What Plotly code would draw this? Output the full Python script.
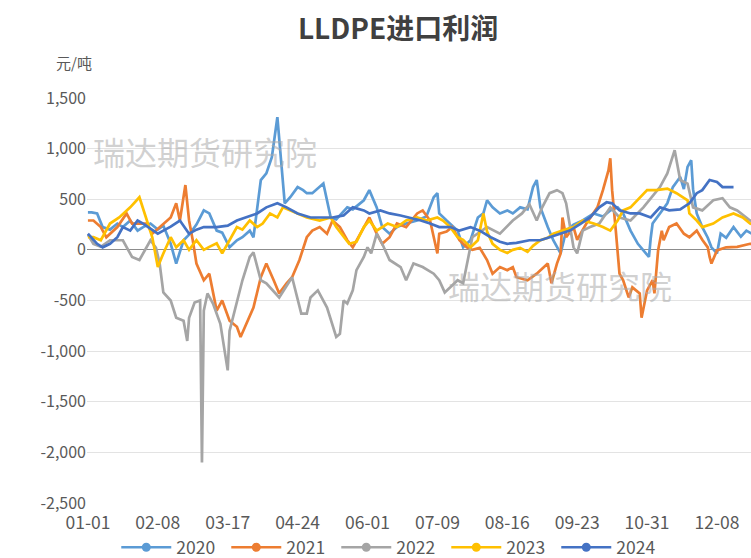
import datetime as dt
import plotly.graph_objects as go

# ---------------- data ----------------
all_days = [(dt.date(2024, 1, 1) + dt.timedelta(days=i)).strftime("%m-%d") for i in range(366)]
x_tick_labels = ["01-01", "02-08", "03-17", "04-24", "06-01", "07-09", "08-16", "09-23", "10-31", "12-08"]
y_tick_vals = [1500, 1000, 500, 0, -500, -1000, -1500, -2000, -2500]
y_tick_text = ["1,500", "1,000", "500", "0", "-500", "-1,000", "-1,500", "-2,000", "-2,500"]

days_2020 = [0, 2, 5, 8, 12, 16, 19, 23, 27, 30, 34, 38, 41, 45, 48, 52, 55, 59, 63, 66, 70, 73, 77, 81, 84, 88, 90,
             94, 97, 100, 103, 105, 107, 110, 114, 117, 119, 122, 126, 128, 132, 135, 141, 144, 150, 153, 157, 160,
             164, 168, 173, 179, 184, 188, 190, 191, 195, 201, 204, 208, 212, 215, 217, 220, 224, 228, 231, 235, 239,
             242, 244, 246, 250, 253, 257, 260, 264, 269, 275, 280, 284, 288, 291, 295, 299, 302, 305, 306, 307, 311,
             315, 318, 322, 324, 326, 328, 329, 331, 334, 337, 339, 342, 344, 347, 351, 355, 358, 361, 365]
vals_2020 = [370, 370, 360, 225, 200, 260, 225, 290, 190, 225, 260, 200, 240, 60, -135, 95, 150, 250, 390, 360, 190,
             170, 25, 95, 125, 190, 125, 690, 755, 915, 1310, 855, 460, 520, 620, 590, 560, 560, 620, 655, 320, 300,
             420, 400, 490, 590, 420, 225, 160, 225, 260, 290, 330, 520, 560, 360, 290, 190, 25, 95, 320, 360, 490,
             420, 360, 390, 360, 420, 400, 620, 690, 420, 225, 95, -35, 190, 250, 290, 360, 330, 390, 420, 360, 190,
             60, 0, -70, 120, 260, 360, 460, 620, 720, 600, 820, 885, 600, 360, 225, 120, 25, -35, 160, 120, 225, 130,
             190, 160, 150]

days_2021 = [0, 3, 7, 10, 16, 21, 24, 32, 35, 39, 45, 48, 50, 53, 55, 57, 59, 63, 66, 70, 73, 77, 81, 83, 86, 90, 94,
             97, 101, 104, 108, 111, 115, 119, 122, 126, 130, 133, 137, 141, 144, 148, 153, 157, 160, 164, 168, 173,
             179, 182, 186, 190, 191, 195, 198, 202, 206, 209, 213, 217, 220, 224, 228, 231, 233, 239, 244, 250, 252,
             255, 257, 258, 260, 264, 266, 271, 277, 280, 283, 284, 285, 287, 288, 289, 291, 294, 296, 300, 301, 304,
             307, 308, 310, 312, 313, 316, 320, 324, 327, 331, 334, 337, 338, 339, 342, 347, 353, 360, 365]
vals_2021 = [290, 290, 225, 125, 225, 360, 260, 260, 160, 225, 320, 460, 290, 640, 290, 95, -135, -300, -235, -600,
             -500, -700, -760, -860, -730, -570, -270, -135, -300, -430, -330, -270, -100, 125, 190, 225, 160, 290,
             225, 95, 25, 160, 320, 160, 60, 125, 260, 225, 360, 390, 290, -35, 160, 180, 225, 95, 25, 0, 20, -100,
             -235, -170, -200, -170, -270, -300, -235, -135, -330, -135, -35, 320, 125, 225, 100, 260, 420, 590, 785,
             905, 590, 190, -70, -235, -300, -470, -370, -430, -670, -400, -300, -430, -5, 190, 95, 225, 260, 160,
             125, 190, 100, 25, -70, -135, -5, 25, 30, 60, 50]

days_2022 = [0, 3, 7, 12, 19, 24, 28, 34, 37, 39, 41, 45, 48, 52, 54, 55, 58, 61, 62, 63, 65, 68, 72, 76, 77, 81, 84,
             88, 90, 94, 97, 104, 111, 116, 119, 121, 125, 130, 135, 137, 139, 141, 144, 146, 150, 152, 154, 157, 160,
             164, 170, 173, 177, 182, 188, 191, 194, 197, 201, 204, 207, 209, 217, 224, 231, 236, 240, 244, 247, 251,
             255, 258, 260, 262, 264, 266, 269, 273, 278, 284, 289, 295, 302, 311, 315, 319, 322, 326, 329, 334, 340,
             345, 349, 353, 360, 365]
vals_2022 = [150, 60, 30, 95, 95, -70, -100, 95, 20, -135, -420, -500, -670, -700, -900, -670, -520, -500, -2100, -600,
             -430, -530, -730, -1190, -800, -500, -300, -70, -25, -300, -330, -470, -270, -630, -630, -470, -400, -570,
             -860, -830, -500, -530, -400, -200, -70, 25, -35, 160, 60, -100, -170, -300, -135, -170, -235, -300, -420,
             -370, -300, -330, -70, 125, 225, 160, 290, 360, 450, 290, 420, 560, 590, 560, 460, 260, 25, -35, 190, 225,
             260, 420, 320, 290, 420, 620, 755, 985, 690, 655, 420, 390, 490, 510, 420, 390, 290, 280]

days_2023 = [0, 3, 7, 12, 17, 23, 28, 32, 35, 38, 41, 45, 48, 52, 55, 59, 63, 66, 70, 73, 77, 81, 84, 88, 92, 95, 99,
             103, 106, 110, 114, 119, 126, 132, 135, 139, 142, 146, 150, 153, 157, 163, 168, 173, 179, 184, 190, 193,
             197, 201, 204, 208, 212, 215, 217, 220, 224, 228, 231, 235, 239, 242, 246, 250, 253, 258, 264, 269, 275,
             280, 284, 288, 291, 295, 300, 304, 309, 315, 320, 326, 327, 331, 334, 340, 345, 351, 356, 360, 365]
vals_2023 = [125, 125, 95, 260, 320, 420, 520, 290, 125, -170, -35, 125, 25, 95, 0, 95, 0, 30, 65, -35, 95, 225, 200,
             290, 225, 260, 360, 320, 420, 390, 360, 320, 290, 320, 225, 125, 60, 80, 225, 290, 190, 260, 225, 290,
             320, 290, 320, 290, 225, 125, 100, 25, 95, 360, 180, 60, 0, -30, 0, 20, -20, 40, 95, 120, 160, 190, 225,
             290, 260, 225, 190, 290, 390, 420, 520, 590, 590, 605, 560, 490, 360, 290, 225, 260, 320, 360, 320, 260,
             240]

days_2024 = [0, 3, 5, 8, 12, 16, 19, 23, 27, 30, 35, 38, 41, 45, 50, 55, 59, 63, 70, 76, 81, 86, 92, 97, 103, 108,
             114, 121, 126, 133, 139, 144, 150, 153, 159, 164, 170, 175, 181, 186, 191, 197, 202, 208, 213, 219, 224,
             228, 233, 240, 246, 251, 257, 262, 268, 273, 278, 282, 285, 289, 295, 300, 306, 311, 316, 322, 327, 331,
             334, 338, 342, 345, 351]
vals_2024 = [160, 100, 60, 25, 60, 125, 225, 190, 290, 260, 200, 160, 190, 230, 290, 160, 200, 225, 225, 240, 290, 320,
             360, 420, 460, 420, 360, 320, 320, 320, 340, 420, 390, 360, 390, 360, 340, 320, 290, 260, 225, 225, 190,
             225, 190, 125, 80, 60, 70, 95, 95, 125, 160, 190, 260, 320, 420, 470, 460, 390, 360, 360, 320, 420, 390,
             400, 460, 560, 590, 690, 670, 620, 620]

series = [
    ("2020", days_2020, vals_2020, "#5B9BD5"),
    ("2021", days_2021, vals_2021, "#ED7D31"),
    ("2022", days_2022, vals_2022, "#A5A5A5"),
    ("2023", days_2023, vals_2023, "#FFC000"),
    ("2024", days_2024, vals_2024, "#4472C4"),
]

FONT = "Noto Sans CJK SC"

fig = go.Figure()
for name, days, vals, color in series:
    fig.add_trace(go.Scatter(
        x=[all_days[d] for d in days], y=vals, mode="lines", name=name,
        line=dict(color=color, width=2.7), showlegend=False, legendgroup=name,
    ))
for name, days, vals, color in series:
    fig.add_trace(go.Scatter(
        x=[None], y=[None], mode="lines+markers", name=name, legendgroup=name,
        line=dict(color=color, width=2.7), marker=dict(color=color, size=9, symbol="circle"),
    ))

fig.update_layout(
    width=751, height=558,
    margin=dict(l=87, r=0, t=98, b=55, autoexpand=False),
    paper_bgcolor="white", plot_bgcolor="white",
    font=dict(family=FONT, color="#595959", size=16),
    title=dict(text="<b>LLDPE进口利润</b>", x=0.53, xanchor="center", y=0.947, yanchor="middle",
               font=dict(family=FONT, size=28, color="#404040")),
    xaxis=dict(
        type="category", categoryorder="array", categoryarray=all_days,
        range=[-0.5, 360.5], tickmode="array", tickvals=x_tick_labels, ticktext=x_tick_labels,
        showgrid=False, showline=False, zeroline=False,
        ticks="outside", ticklen=4, tickcolor="rgba(0,0,0,0)",
        tickfont=dict(size=17.5, color="#595959"), tickangle=0,
    ),
    yaxis=dict(
        range=[-2500, 1500], tickmode="array", tickvals=y_tick_vals, ticktext=y_tick_text,
        showgrid=True, gridcolor="#E3E3E3", gridwidth=1,
        zeroline=True, zerolinecolor="#8C8C8C", zerolinewidth=1.3,
        showline=False, ticks="", tickfont=dict(size=16, color="#595959"),
    ),
    legend=dict(
        orientation="h", xref="container", yref="container", x=0.521, xanchor="center",
        y=0.019, yanchor="middle", font=dict(size=17.5, color="#595959"),
        entrywidth=45, entrywidthmode="pixels", itemwidth=50, bgcolor="rgba(0,0,0,0)",
        tracegroupgap=0,
    ),
    annotations=[
        dict(text="元/吨", xref="paper", yref="paper", x=-0.02, y=1.087, xanchor="center", yanchor="middle",
             showarrow=False, font=dict(family=FONT, size=15, color="#595959")),
        dict(text="瑞达期货研究院", xref="paper", yref="paper", x=0.178, y=0.87, xanchor="center", yanchor="middle",
             showarrow=False, font=dict(family=FONT, size=32, color="rgba(170,170,170,0.55)")),
        dict(text="瑞达期货研究院", xref="paper", yref="paper", x=0.713, y=0.538, xanchor="center", yanchor="middle",
             showarrow=False, font=dict(family=FONT, size=32, color="rgba(170,170,170,0.55)")),
    ],
)

fig.write_html("out.html", config={"displayModeBar": False},
               post_script="document.body.style.margin='0';document.body.style.padding='0';")
